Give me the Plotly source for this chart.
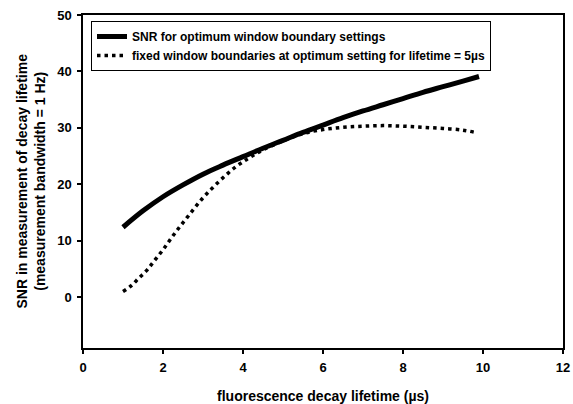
import plotly.graph_objects as go

# SNR for optimum window boundary settings
lifetime_opt = [1.0, 1.5, 2.0, 2.5, 3.0, 3.5, 4.0, 4.5, 5.0, 5.5, 6.0, 6.5,
                7.0, 7.5, 8.0, 8.5, 9.0, 9.5, 9.9]
snr_opt = [12.4, 15.3, 17.8, 19.9, 21.8, 23.4, 24.9, 26.4, 27.8, 29.2, 30.5,
           31.8, 33.0, 34.1, 35.2, 36.3, 37.3, 38.3, 39.1]

# fixed window boundaries at the optimum setting for a 5 us lifetime
lifetime_fixed = [1.0, 1.2, 1.4, 1.6, 1.8, 2.0, 2.2, 2.4, 2.6, 2.8, 3.0, 3.2,
                  3.4, 3.6, 3.8, 4.0, 4.2, 4.5, 5.0, 5.5, 6.0, 6.5, 7.0, 7.5,
                  8.0, 8.5, 9.0, 9.5, 9.8]
snr_fixed = [1.0, 2.0, 3.4, 4.8, 6.6, 8.4, 10.4, 12.3, 14.1, 15.9, 17.6, 19.1,
             20.5, 21.8, 23.0, 24.0, 24.9, 26.1, 27.7, 29.0, 29.7, 30.1, 30.3,
             30.4, 30.3, 30.1, 29.9, 29.6, 29.2]

x_ticks = [0, 2, 4, 6, 8, 10, 12]
y_ticks = [0, 10, 20, 30, 40, 50]

FONT = "Liberation Sans, Arial, sans-serif"

fig = go.Figure()
fig.add_trace(go.Scatter(
    x=lifetime_opt, y=snr_opt, mode="lines",
    name="SNR for optimum window boundary settings",
    line=dict(color="black", width=5, shape="spline"),
))
fig.add_trace(go.Scatter(
    x=lifetime_fixed, y=snr_fixed, mode="lines",
    name="fixed window boundaries at optimum setting for lifetime = 5µs",
    line=dict(color="black", width=3.5, dash="3.5px,4px", shape="spline"),
))

axis_common = dict(
    showgrid=False, zeroline=False, showline=True, linecolor="black",
    linewidth=1.5, mirror=True, ticks="outside", ticklen=4, tickwidth=1.5,
    tickcolor="black", automargin=False,
    tickfont=dict(family=FONT, size=13, color="black", weight="bold"),
)

fig.update_layout(
    width=573, height=404,
    margin=dict(l=83, r=10, t=15, b=56),
    paper_bgcolor="white", plot_bgcolor="white",
    showlegend=True,
    legend=dict(
        x=(91 - 83) / 480, y=(348 - 21) / 333, xanchor="left", yanchor="top",
        bordercolor="black", borderwidth=1, bgcolor="white",
        font=dict(family=FONT, size=12, color="black", weight="bold"),
        tracegroupgap=0, itemwidth=30,
    ),
    xaxis=dict(
        range=[0, 12], tickvals=x_ticks, ticklabelstandoff=3,
        title=dict(text="fluorescence decay lifetime (µs)", standoff=20,
                   font=dict(family=FONT, size=14, color="black", weight="bold")),
        **axis_common,
    ),
    yaxis=dict(
        range=[-9, 50], tickvals=y_ticks, ticklabelstandoff=3,
        **axis_common,
    ),
    annotations=[dict(
        text="SNR in measurement of decay lifetime<br>(measurement bandwidth = 1 Hz)",
        xref="paper", yref="paper", x=(30 - 83) / 480, y=0.5,
        xanchor="center", yanchor="middle", textangle=-90, showarrow=False,
        font=dict(family=FONT, size=14, color="black", weight="bold"),
    )],
)

fig.write_html("out.html")
